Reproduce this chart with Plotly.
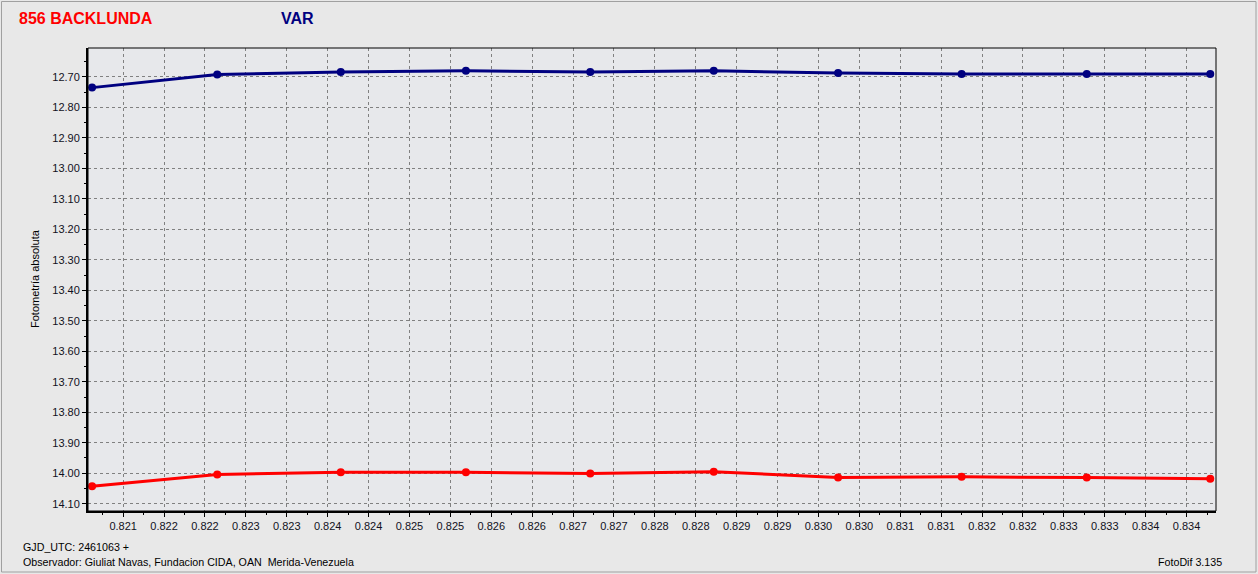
import plotly.graph_objects as go

# ---- data ----
gjd_frac = [0.82102, 0.82255, 0.82406, 0.82559, 0.82711, 0.82862, 0.83014, 0.83165, 0.83318, 0.83469]
var_mag = [12.735, 12.692, 12.684, 12.680, 12.684, 12.680, 12.687, 12.690, 12.690, 12.690]
backlunda_mag = [14.043, 14.004, 13.997, 13.997, 14.001, 13.995, 14.014, 14.012, 14.014, 14.018]

x_tick_start = 0.8214
x_tick_step = 0.0005
x_tick_labels = ["0.821", "0.822", "0.822", "0.823", "0.823", "0.824", "0.824", "0.825", "0.825",
                 "0.826", "0.826", "0.827", "0.827", "0.828", "0.828", "0.829", "0.829", "0.830",
                 "0.830", "0.831", "0.831", "0.832", "0.832", "0.833", "0.833", "0.834", "0.834"]
y_tick_vals = [12.7, 12.8, 12.9, 13.0, 13.1, 13.2, 13.3, 13.4, 13.5, 13.6, 13.7, 13.8, 13.9, 14.0, 14.1]
y_tick_labels = ["%.2f" % v for v in y_tick_vals]

x_range = [0.82097, 0.83476]
y_range = [14.124, 12.605]

W, H = 1258, 574
L, R, T, B = 88, 42, 48, 63
pw, ph = W - L - R, H - T - B


def px(x):
    return (x - L) / pw


def py(y):
    return (H - B - y) / ph


x_tick_vals = [x_tick_start + i * x_tick_step for i in range(len(x_tick_labels))]

fig = go.Figure()
fig.add_trace(go.Scatter(x=gjd_frac, y=var_mag, mode="lines+markers", name="VAR",
                         line=dict(color="#000080", width=3),
                         marker=dict(color="#000080", size=8, symbol="circle")))
fig.add_trace(go.Scatter(x=gjd_frac, y=backlunda_mag, mode="lines+markers", name="856 BACKLUNDA",
                         line=dict(color="#ff0000", width=3),
                         marker=dict(color="#ff0000", size=8, symbol="circle")))

tickfont = dict(family="Liberation Sans, Arial, sans-serif", size=11, color="#111122")

fig.update_xaxes(range=x_range, tickmode="array", tickvals=x_tick_vals, ticktext=x_tick_labels,
                 showgrid=True, gridcolor="#808080", griddash="3px,3px", gridwidth=1,
                 showline=True, linecolor="black", linewidth=2,
                 ticks="outside", ticklen=4, tickcolor="black", tickwidth=1,
                 minor=dict(tickmode="array",
                            tickvals=[v + x_tick_step / 2 for v in x_tick_vals] + [x_tick_start - x_tick_step / 2],
                            ticks="outside", ticklen=2, tickcolor="black", showgrid=False),
                 tickfont=tickfont, zeroline=False, fixedrange=True)
fig.update_yaxes(range=y_range, tickmode="array", tickvals=y_tick_vals, ticktext=y_tick_labels,
                 showgrid=True, gridcolor="#808080", griddash="3px,3px", gridwidth=1,
                 showline=True, linecolor="black", linewidth=2,
                 ticks="outside", ticklen=4, tickcolor="black", tickwidth=1,
                 minor=dict(tickmode="array",
                            tickvals=[v + 0.05 for v in y_tick_vals] + [12.65],
                            ticks="outside", ticklen=2, tickcolor="black", showgrid=False),
                 tickfont=tickfont, zeroline=False, fixedrange=True)

shapes = [
    # thin top/right frame of plot area
    dict(type="rect", xref="paper", yref="paper", x0=0, y0=0, x1=1, y1=1,
         line=dict(color="black", width=1), layer="above"),
    # outer window frame
    dict(type="rect", xref="paper", yref="paper", x0=px(1.5), y0=py(572), x1=px(1256), y1=py(1.5),
         line=dict(color="#a0a0a0", width=1), layer="below"),
]

small = dict(family="Liberation Sans, Arial, sans-serif", size=11, color="black")
foot = dict(family="Liberation Sans, Arial, sans-serif", size=10.7, color="black")
annotations = [
    dict(text="<b>856 BACKLUNDA</b>", x=px(17), y=py(18), xref="paper", yref="paper",
         xanchor="left", yanchor="middle", showarrow=False,
         font=dict(family="Liberation Sans, Arial, sans-serif", size=16, color="#ff0000")),
    dict(text="<b>VAR</b>", x=px(279), y=py(18), xref="paper", yref="paper",
         xanchor="left", yanchor="middle", showarrow=False,
         font=dict(family="Liberation Sans, Arial, sans-serif", size=16, color="#000080")),
    dict(text="Fotometría absoluta", x=px(35), y=py(279), xref="paper", yref="paper",
         xanchor="center", yanchor="middle", textangle=-90, showarrow=False, font=small),
    dict(text="GJD_UTC: 2461063 +", x=px(21), y=py(547), xref="paper", yref="paper",
         xanchor="left", yanchor="middle", showarrow=False, font=foot),
    dict(text="Observador: Giuliat Navas, Fundacion CIDA, OAN  Merida-Venezuela", x=px(21), y=py(562),
         xref="paper", yref="paper", xanchor="left", yanchor="middle", showarrow=False, font=foot),
    dict(text="FotoDif 3.135", x=px(1224), y=py(562), xref="paper", yref="paper",
         xanchor="right", yanchor="middle", showarrow=False, font=foot),
]

fig.update_layout(width=W, height=H, autosize=False,
                  margin=dict(l=L, r=R, t=T, b=B, pad=0),
                  paper_bgcolor="#e8e8e8", plot_bgcolor="#e7e8eb",
                  showlegend=False, shapes=shapes, annotations=annotations,
                  font=small)

fig.write_html("out.html", config={"displayModeBar": False},
               post_script="document.body.style.margin='0';document.body.style.overflow='hidden';")
